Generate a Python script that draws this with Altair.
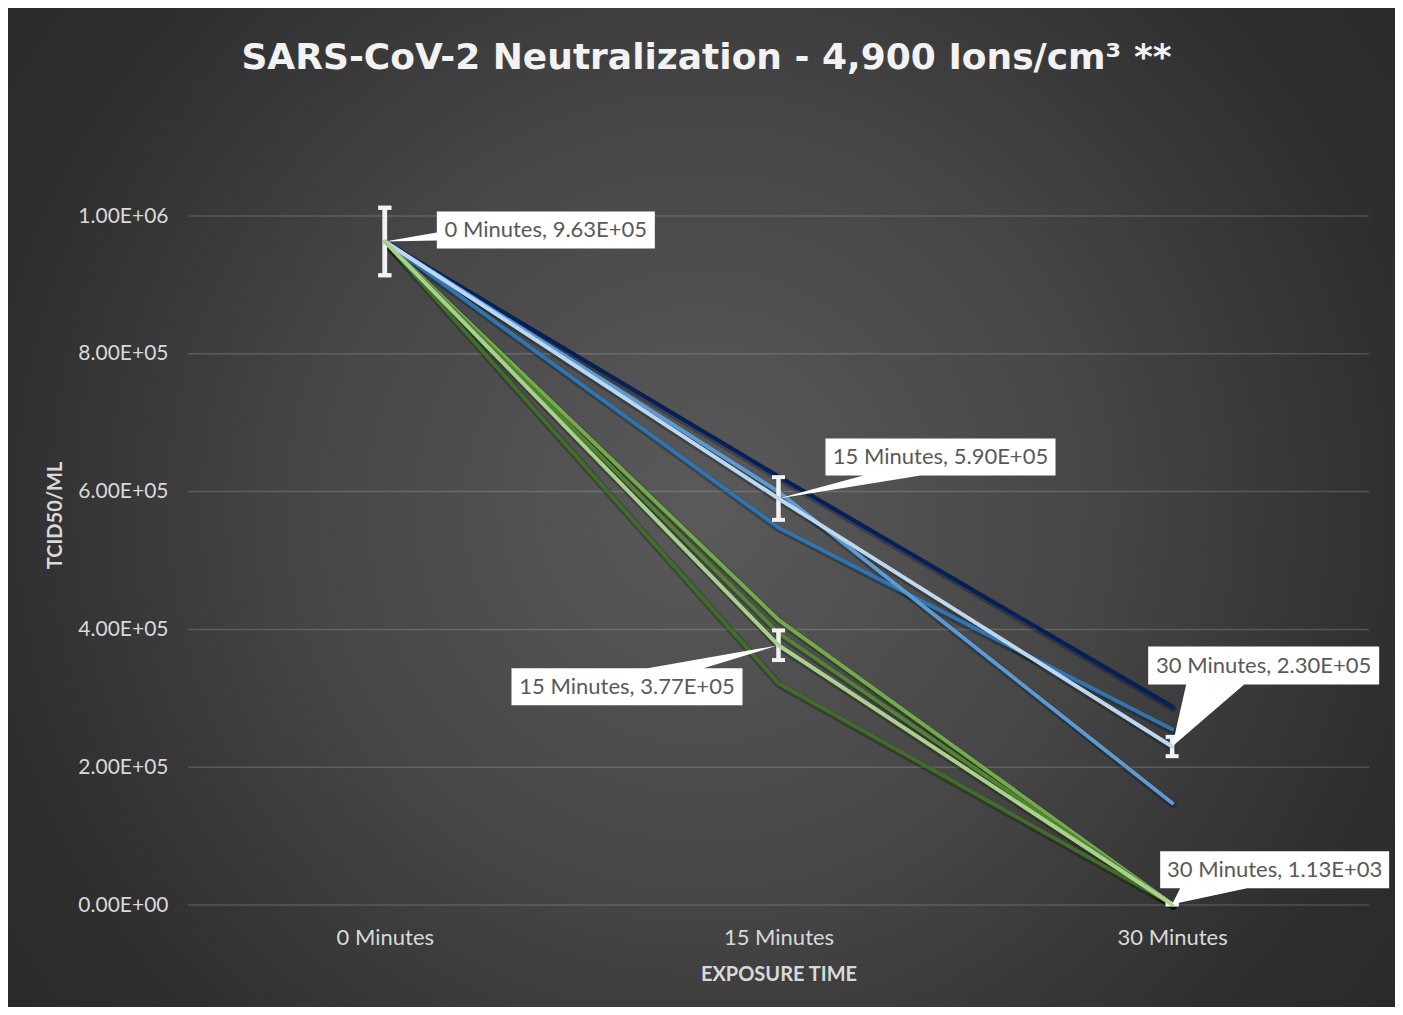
import altair as alt
import pandas as pd

# ---------------- data ----------------
categories = ["0 Minutes", "15 Minutes", "30 Minutes"]

control_trial_1 = [9.63e5, 6.22e5, 2.88e5]
control_trial_2 = [9.63e5, 5.48e5, 2.55e5]
control_trial_3 = [9.63e5, 6.00e5, 1.48e5]
control_mean = [9.63e5, 5.90e5, 2.30e5]
control_error = [4.9e4, 3.1e4, 1.4e4]

ions_trial_1 = [9.63e5, 4.14e5, 1.20e3]
ions_trial_2 = [9.63e5, 3.95e5, 1.05e3]
ions_trial_3 = [9.63e5, 3.22e5, 1.14e3]
ions_mean = [9.63e5, 3.77e5, 1.13e3]
ions_error = [4.9e4, 2.15e4, 5.0e2]

y_ticks = [0, 2e5, 4e5, 6e5, 8e5, 1e6]

title_text = "SARS-CoV-2 Neutralization - 4,900 Ions/cm³ **"

series_names = [
    "Control - Trial 1", "Control - Trial 2", "Control - Trial 3", "Control - Mean",
    "Ions - Trial 1", "Ions - Trial 2", "Ions - Trial 3", "Ions - Mean",
]
series_values = [
    control_trial_1, control_trial_2, control_trial_3, control_mean,
    ions_trial_1, ions_trial_2, ions_trial_3, ions_mean,
]

# ---------------- styles ----------------
series_colors = ["#002060", "#2E75B6", "#5B9BD5", "#BDD7EE",
                 "#70AD47", "#548235", "#406E29", "#A9D18E"]
FONT = "Lato"
PLOT_W, PLOT_H = 1181, 689
BG_LEFT, BG_RIGHT, BG_TOP, BG_BOTTOM = 180, 26, 208, 102

rows = []
for name, vals in zip(series_names, series_values):
    for c, v in zip(categories, vals):
        rows.append({"series": name, "time": c, "value": v,
                     "kind": "mean" if "Mean" in name else "trial"})
df = pd.DataFrame(rows)

err_rows = []
for grp, mean, err in (("Control", control_mean, control_error),
                       ("Ions", ions_mean, ions_error)):
    for c, m, e in zip(categories, mean, err):
        err_rows.append({"group": grp, "time": c, "lo": m - e, "hi": m + e})
err_df = pd.DataFrame(err_rows)

x_enc = alt.X("time:N", sort=categories,
              scale=alt.Scale(type="point", padding=0.5),
              axis=alt.Axis(title="EXPOSURE TIME", labelAngle=0, ticks=False, tickSize=0,
                            domain=False, grid=False, labelPadding=22, zindex=2,
                            labelFontSize=22, labelColor="#D9D9D9", labelFont=FONT,
                            titleFont=FONT, titleFontSize=20, titleFontWeight="bold",
                            titleColor="#D9D9D9", titlePadding=16))
y_scale = alt.Scale(domain=[0, 1e6], nice=False, zero=True)
y_enc = alt.Y("value:Q", scale=y_scale,
              axis=alt.Axis(title="TCID50/ML", values=y_ticks,
                            labelExpr="replace(format(datum.value, '.2e'), 'e+', 'E+0')",
                            ticks=False, tickSize=0, domain=False, grid=False, zindex=2,
                            labelPadding=20, labelFontSize=21, labelColor="#D9D9D9",
                            labelFont=FONT, titleFont=FONT, titleFontSize=20,
                            titleFontWeight="bold", titleColor="#D9D9D9",
                            titlePadding=12, titleY=299))
color_enc = alt.Color("series:N", scale=alt.Scale(domain=series_names, range=series_colors),
                      legend=None)

base = alt.Chart(df)

background = alt.Chart(pd.DataFrame({"a": [0]})).mark_rect(
    fill=alt.RadialGradient(
        gradient="radial", x1=0.5, y1=0.5, x2=0.5, y2=0.5, r1=0, r2=0.65,
        stops=[alt.GradientStop(offset=0, color="#5a5a5a"),
               alt.GradientStop(offset=0.45, color="#454545"),
               alt.GradientStop(offset=0.78, color="#2f2f2f"),
               alt.GradientStop(offset=1, color="#282828")]),
).encode(x=alt.value(-BG_LEFT), x2=alt.value(PLOT_W + BG_RIGHT),
         y=alt.value(-BG_TOP), y2=alt.value(PLOT_H + BG_BOTTOM))

title_mark = alt.Chart(pd.DataFrame({"t": [title_text]})).mark_text(
    align="center", baseline="alphabetic", font="DejaVu Sans", fontSize=36,
    fontWeight="bold", color="#F2F2F2",
).encode(x=alt.value(518.5), y=alt.value(-147.5), text="t:N")

grid = alt.Chart(pd.DataFrame({"value": y_ticks})).mark_rule(
    color="#FFFFFF", opacity=0.16, strokeWidth=1.5,
).encode(y=y_enc, x=alt.value(0), x2=alt.value(PLOT_W))

shadow = base.mark_line(color="black", opacity=0.25, strokeWidth=7, xOffset=1, yOffset=2,
                        strokeCap="round", strokeJoin="round").encode(
    x=x_enc, y=y_enc, detail="series:N")

trial_lines = base.transform_filter("datum.kind == 'trial'").mark_line(
    strokeWidth=4, strokeCap="round", strokeJoin="round").encode(
    x=x_enc, y=y_enc, color=color_enc)

err_base = alt.Chart(err_df)
err_rule = err_base.mark_rule(color="#F2F2F2", strokeWidth=4.5).encode(
    x=x_enc, y=alt.Y("lo:Q", scale=y_scale), y2="hi:Q")
err_cap_lo = err_base.mark_tick(color="#F2F2F2", size=13, thickness=4, opacity=1).encode(
    x=x_enc, y=alt.Y("lo:Q", scale=y_scale))
err_cap_hi = err_base.mark_tick(color="#F2F2F2", size=13, thickness=4, opacity=1).encode(
    x=x_enc, y=alt.Y("hi:Q", scale=y_scale))

mean_lines = base.transform_filter("datum.kind == 'mean'").mark_line(
    strokeWidth=4, strokeCap="round", strokeJoin="round").encode(
    x=x_enc, y=y_enc, color=color_enc)

# callouts: (series, category index, box+pointer path relative to the point, text dx, dy)
callouts = [
    ("Control - Mean", 0, "M0,0 L52,-9 L52,-30 L270,-30 L270,7 L52,7 L52,-1 Z", 161, -11.5),
    ("Control - Mean", 1, "M0,0 L85,-23 L47,-23 L47,-60 L277,-60 L277,-23 L142,-23 Z", 162, -41.5),
    ("Ions - Mean", 1, "M0,0 L-75,23 L-36,23 L-36,60 L-267,60 L-267,23 L-131,23 Z", -151.5, 41.5),
    ("Control - Mean", 2, "M0,0 L14,-62 L-24,-62 L-24,-100 L207,-100 L207,-62 L72,-62 Z", 91.5, -81),
    ("Ions - Mean", 2, "M0,0 L8,-16 L-12,-16 L-12,-53 L217,-53 L217,-16 L75,-16 Z", 102.5, -34.5),
]
label_layers = []
for s, i, path, dx, dy in callouts:
    v = series_values[series_names.index(s)][i]
    ldf = pd.DataFrame({"time": [categories[i]], "value": [v],
                        "label": [f"{categories[i]}, {v:.2E}"]})
    lc = alt.Chart(ldf)
    label_layers.append(lc.mark_point(shape=path, size=4, filled=True, color="white",
                                      opacity=1, strokeWidth=0).encode(x=x_enc, y=y_enc))
    label_layers.append(lc.mark_text(align="center", baseline="middle", dx=dx, dy=dy,
                                     font=FONT, fontSize=22, color="#595959").encode(
        x=x_enc, y=y_enc, text="label:N"))

chart = alt.layer(
    background, title_mark, grid, shadow, trial_lines, err_rule, err_cap_lo, err_cap_hi,
    mean_lines, *label_layers,
).properties(
    width=PLOT_W, height=PLOT_H, padding=0,
).configure_view(stroke=None).configure(background="white")

chart.save("out.html", embed_options={"renderer": "svg", "actions": False})
